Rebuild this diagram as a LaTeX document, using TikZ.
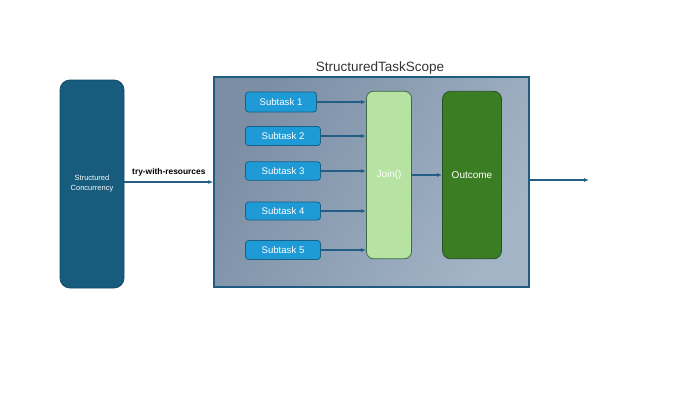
\documentclass[tikz,border=0pt]{standalone}
\usepackage{fontspec}
\setmainfont{Liberation Sans}
\usetikzlibrary{arrows.meta,calc}
\definecolor{leftfill}{HTML}{175B7D}
\definecolor{leftdraw}{HTML}{124A68}
\definecolor{maindraw}{HTML}{1F5C82}
\definecolor{mainA}{HTML}{7B8EA4}
\definecolor{mainB}{HTML}{A3B4C6}
\definecolor{subfill}{HTML}{1E9AD6}
\definecolor{subdraw}{HTML}{1A5F86}
\definecolor{joinfill}{HTML}{B6E3A2}
\definecolor{joindraw}{HTML}{3E6B45}
\definecolor{outfill}{HTML}{3B7D23}
\definecolor{outdraw}{HTML}{2A4F2A}
\definecolor{arrowc}{HTML}{245E87}
\begin{document}
\begin{tikzpicture}[x=1pt,y=-1pt,
  subbox/.style={draw=subdraw,fill=subfill,line width=0.8pt,rounded corners=3pt,inner sep=0pt,text=white,font=\fontsize{9.6}{11}\selectfont},
  conn/.style={draw=arrowc,line width=1.6pt,-{Latex[length=5pt,width=4pt]}},
]
\useasboundingbox (0,0) rectangle (700,394);
\fill[white] (0,0) rectangle (700,394);
% left box
\node[draw=leftdraw,fill=leftfill,line width=0.8pt,rounded corners=10pt,minimum width=64pt,minimum height=208pt,inner sep=0pt,text=white,align=center,font=\fontsize{7.5}{10}\selectfont] (left) at (92,184) {Structured\\Concurrency};
% main box
\node[draw=maindraw,line width=1.4pt,left color=mainA,right color=mainB,shading angle=60,minimum width=315pt,minimum height=210pt,inner sep=0pt] (main) at (371.5,182) {};
\node[font=\fontsize{13.5}{15}\selectfont,text=black!80] (title) at (380,68) {StructuredTaskScope};
% subtasks
\node[subbox,minimum width=71pt,minimum height=20pt] (s1) at (281,102) {Subtask 1};
\node[subbox,minimum width=75pt,minimum height=19pt] (s2) at (283,136) {Subtask 2};
\node[subbox,minimum width=75pt,minimum height=18.5pt] (s3) at (283,171) {Subtask 3};
\node[subbox,minimum width=75pt,minimum height=18pt] (s4) at (283,211) {Subtask 4};
\node[subbox,minimum width=75pt,minimum height=19pt] (s5) at (283,250) {Subtask 5};
% join and outcome
\node[draw=joindraw,fill=joinfill,line width=0.8pt,rounded corners=7pt,minimum width=45pt,minimum height=167.5pt,inner sep=0pt,text=white,font=\fontsize{10}{11}\selectfont] (join) at (389,175) {Join()};
\node[draw=outdraw,fill=outfill,line width=0.8pt,rounded corners=8pt,minimum width=59pt,minimum height=167.5pt,inner sep=0pt,text=white,font=\fontsize{10}{11}\selectfont] (out) at (472,175) {Outcome};
% connectors
\foreach \s in {s1,s2,s3,s4,s5}
  \draw[conn] (\s.east) -- (join.west |- \s.east);
\draw[conn] (join.east) -- (out.west);
\draw[conn] (left.east |- main.west) -- node[above=2pt,text=black,font=\bfseries\fontsize{8.4}{10}\selectfont] (lbl) {try-with-resources} (main.west);
\coordinate (end) at (589,180);
\draw[conn] (main.east |- end) -- (end);
\end{tikzpicture}
\end{document}
